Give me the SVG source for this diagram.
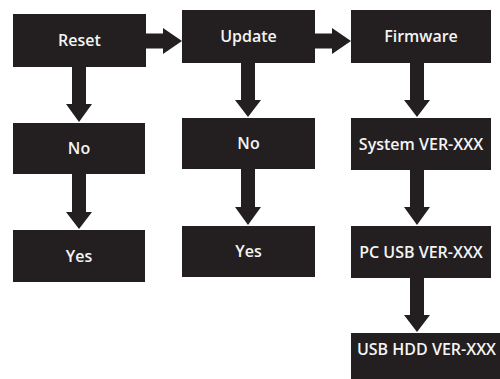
<svg xmlns="http://www.w3.org/2000/svg" width="500" height="379" viewBox="0 0 500 379">
<style>
.box{fill:#231f20}
.lbl{fill:#f4f4f4;font-family:"Open Sans","Noto Sans","Liberation Sans",sans-serif;font-weight:600;font-size:16px;text-anchor:middle}
.arr{fill:#231f20}
</style>
<rect width="500" height="379" fill="#ffffff"/>
<g id="reset"><rect class="box" x="13" y="14" width="133" height="53"/><text class="lbl" x="79.5" y="46">Reset</text></g>
<g id="reset-no"><rect class="box" x="13" y="123" width="132" height="51"/><text class="lbl" x="79" y="154">No</text></g>
<g id="reset-yes"><rect class="box" x="13" y="230" width="132" height="52"/><text class="lbl" x="79" y="262">Yes</text></g>
<g id="update"><rect class="box" x="182" y="10" width="133" height="53"/><text class="lbl" x="248.5" y="42">Update</text></g>
<g id="update-no"><rect class="box" x="182" y="118" width="133" height="51"/><text class="lbl" x="248.5" y="149">No</text></g>
<g id="update-yes"><rect class="box" x="182" y="226" width="133" height="51"/><text class="lbl" x="248.5" y="257">Yes</text></g>
<g id="firmware"><rect class="box" x="351" y="10" width="140" height="53"/><text class="lbl" x="421" y="42">Firmware</text></g>
<g id="system"><rect class="box" x="351" y="118" width="140" height="52"/><text class="lbl" x="421" y="149.5">System VER-XXX</text></g>
<g id="pcusb"><rect class="box" x="351" y="226" width="140" height="52"/><text class="lbl" x="421" y="257.5">PC USB VER-XXX</text></g>
<g id="usbhdd"><rect class="box" x="351" y="333" width="149" height="46"/><text class="lbl" x="426.5" y="355">USB HDD VER-XXX</text></g>
<g id="connectors">
<polygon class="arr" points="146,33.5 163,33.5 163,28 182,41 163,54 163,48.5 146,48.5"/>
<polygon class="arr" points="315,33.5 332,33.5 332,28 351,41 332,54 332,48.5 315,48.5"/>
<polygon class="arr" points="72,67 86,67 86,104 92,104 79,122 66,104 72,104"/>
<polygon class="arr" points="72,174 86,174 86,212 92,212 79,229 66,212 72,212"/>
<polygon class="arr" points="241,63 255,63 255,100 261,100 248,117 235,100 241,100"/>
<polygon class="arr" points="241,169 255,169 255,207 261,207 248,225 235,207 241,207"/>
<polygon class="arr" points="410,63 424,63 424,100 430,100 417,117 404,100 410,100"/>
<polygon class="arr" points="410,170 424,170 424,207 430,207 417,225 404,207 410,207"/>
<polygon class="arr" points="410,278 424,278 424,315 430,315 417,332 404,315 410,315"/>
</g>
</svg>
